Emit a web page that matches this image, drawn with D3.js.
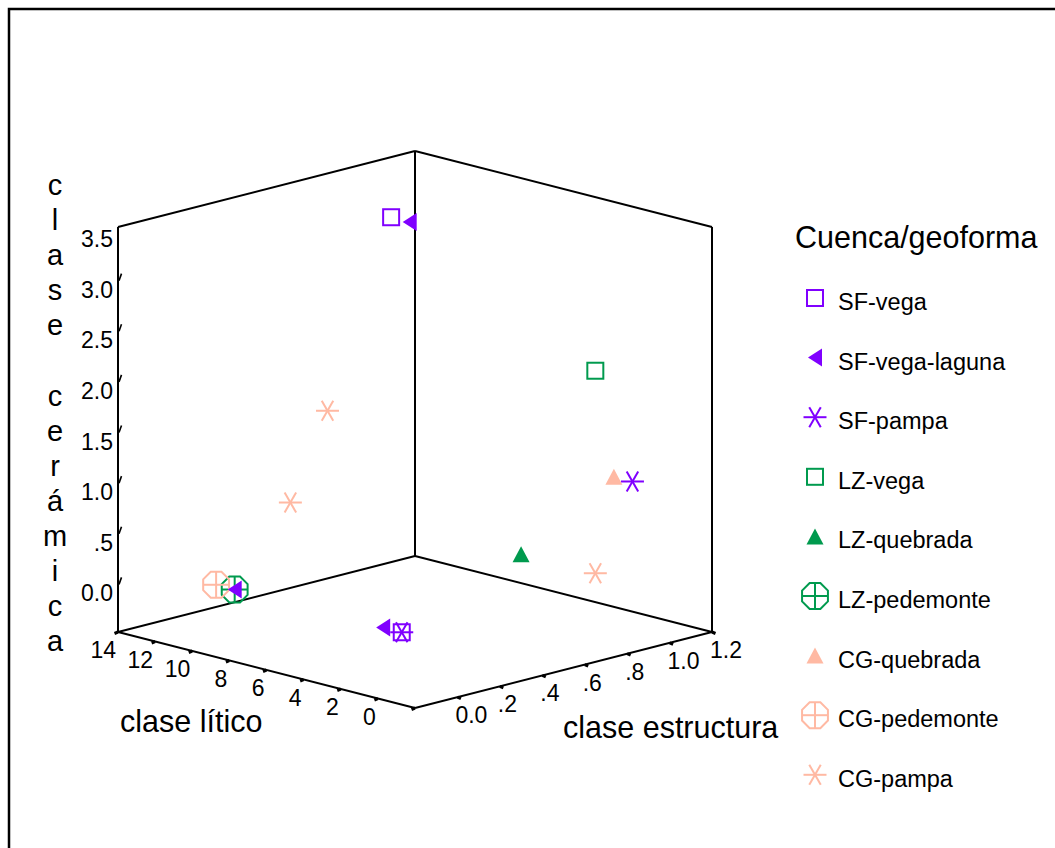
<!DOCTYPE html>
<html>
<head>
<meta charset="utf-8">
<script src="https://cdn.jsdelivr.net/npm/d3@7"></script>
<style>
  body { margin: 0; background: #fff; }
  svg { display: block; }
  text { font-family: "Liberation Sans", Arial, sans-serif; fill: #000; }
</style>
</head>
<body>
<svg id="chart" width="1055" height="848"></svg>
<script>
// Groups (Cuenca/geoforma) with their marker shape and colour
const groups = ["SF-vega", "SF-vega-laguna", "SF-pampa", "LZ-vega", "LZ-quebrada",
                "LZ-pedemonte", "CG-quebrada", "CG-pedemonte", "CG-pampa"];
const groupShapes = ["square", "triLeft", "asterisk", "square", "triUp",
                     "octagon", "triUp", "octagon", "asterisk"];
const groupColors = ["#8000ff", "#8000ff", "#8000ff", "#009a4e", "#009a4e",
                     "#009a4e", "#ffb9a3", "#ffb9a3", "#ffb9a3"];

// One entry per case
const caseGroup  = [0, 0, 1, 1, 1, 2, 2, 3, 4, 5, 6, 7, 8, 8, 8];
const estructura = [1, 0, 1, 0, 0, 1, 0, 1, 1, 0, 1, 0, 0, 0, 1];
const litico     = [13, 1, 12, 2, 10, 0, 1, 2, 6, 10, 1, 11, 5, 7, 2];
const ceramica   = [3, 0, 3, 0, 0, 1, 0, 2, 0, 0, 1, 0, 2, 1, 0];

// Axis ticks
const estructuraTicks  = [0, 0.2, 0.4, 0.6, 0.8, 1.0, 1.2];
const estructuraLabels = ["0.0", ".2", ".4", ".6", ".8", "1.0", "1.2"];
const liticoTicks      = [14, 12, 10, 8, 6, 4, 2, 0];
const liticoLabels     = ["14", "12", "10", "8", "6", "4", "2", "0"];
const ceramicaTicks    = [0, 0.5, 1.0, 1.5, 2.0, 2.5, 3.0, 3.5];
const ceramicaLabels   = ["0.0", ".5", "1.0", "1.5", "2.0", "2.5", "3.0", "3.5"];

const svg = d3.select("#chart");

// Outer frame
svg.append("rect").attr("x", 9).attr("y", 9).attr("width", 1200).attr("height", 1000)
  .attr("fill", "none").attr("stroke", "#000").attr("stroke-width", 2.5);

// ---- 3D projection: floor diamond + vertical scale ----
const sE = d3.scaleLinear().domain([-0.2, 1.2]).range([0, 1]);
const sL = d3.scaleLinear().domain([-2, 14]).range([0, 1]);
const sC = d3.scaleLinear().domain([-0.5, 3.5]).range([0, 405]);
const origin = [415, 708];
const eVec = [297, -76];
const lVec = [-297, -76];
function proj(e, l, c) {
  const a = sE(e), b = sL(l);
  return [origin[0] + a * eVec[0] + b * lVec[0],
          origin[1] + a * eVec[1] + b * lVec[1] - sC(c)];
}
const [e0, e1] = sE.domain(), [l0, l1] = sL.domain(), [c0, c1] = sC.domain();

const box = svg.append("g").attr("stroke", "#000").attr("stroke-width", 2)
  .attr("fill", "none").attr("stroke-linejoin", "round");
const edge = (p, q) => box.append("line")
  .attr("x1", p[0]).attr("y1", p[1]).attr("x2", q[0]).attr("y2", q[1]);
// floor
edge(proj(e0, l0, c0), proj(e1, l0, c0));
edge(proj(e0, l0, c0), proj(e0, l1, c0));
edge(proj(e1, l1, c0), proj(e1, l0, c0));
edge(proj(e1, l1, c0), proj(e0, l1, c0));
// verticals
edge(proj(e0, l1, c0), proj(e0, l1, c1));
edge(proj(e1, l1, c0), proj(e1, l1, c1));
edge(proj(e1, l0, c0), proj(e1, l0, c1));
// top back edges
edge(proj(e0, l1, c1), proj(e1, l1, c1));
edge(proj(e1, l1, c1), proj(e1, l0, c1));

const axes = svg.append("g");
const tickFont = "23px";

// clase lítico (front-left floor edge)
const litTickPos = liticoTicks.concat([-2]);
litTickPos.forEach(v => {
  const p = proj(e0, v, c0);
  axes.append("line").attr("x1", p[0]).attr("y1", p[1])
    .attr("x2", p[0] - 3.5).attr("y2", p[1] + 1.5)
    .attr("stroke", "#000").attr("stroke-width", 3);
});
liticoTicks.forEach((v, i) => {
  const p = proj(e0, v, c0);
  axes.append("text").attr("x", p[0] - 2).attr("y", p[1] + 26)
    .attr("text-anchor", "end").style("font-size", tickFont).text(liticoLabels[i]);
});

// clase estructura (front-right floor edge)
estructuraTicks.forEach((v, i) => {
  const p = proj(v, l0, c0);
  axes.append("line").attr("x1", p[0]).attr("y1", p[1])
    .attr("x2", p[0] + 3.5).attr("y2", p[1] + 1.5)
    .attr("stroke", "#000").attr("stroke-width", 3);
  axes.append("text").attr("x", p[0] - 2).attr("y", p[1] + 26)
    .attr("text-anchor", "start").style("font-size", tickFont).text(estructuraLabels[i]);
});

// clase cerámica (back-left vertical edge)
ceramicaTicks.forEach((v, i) => {
  const p = proj(e0, l1, v);
  if (v < 3.5) {
    axes.append("line").attr("x1", p[0] + 1).attr("y1", p[1] + 3)
      .attr("x2", p[0] + 3.5).attr("y2", p[1] - 4)
      .attr("stroke", "#000").attr("stroke-width", 1.6);
  }
  axes.append("text").attr("x", p[0] - 5).attr("y", p[1] + 20)
    .attr("text-anchor", "end").style("font-size", tickFont).text(ceramicaLabels[i]);
});

// Axis titles
svg.append("text").attr("x", 120).attr("y", 732).style("font-size", "30.5px").text("clase lítico");
svg.append("text").attr("x", 563).attr("y", 738).style("font-size", "30.5px").text("clase estructura");
const vTitle = "clase cerámica".split("");
svg.append("g").selectAll("text").data(vTitle).join("text")
  .attr("x", 55).attr("y", (d, i) => 195 + i * 35.1)
  .attr("text-anchor", "middle").style("font-size", "29px").text(d => d);

// ---- marker drawing ----
function drawMarker(g, shape, color, cx, cy) {
  if (shape === "square") {
    g.append("rect").attr("x", cx - 8).attr("y", cy - 8).attr("width", 16).attr("height", 16)
      .attr("fill", "none").attr("stroke", color).attr("stroke-width", 2);
  } else if (shape === "triLeft") {
    g.append("path").attr("d", `M${cx - 7},${cy}L${cx + 7},${cy - 9}L${cx + 7},${cy + 9}Z`)
      .attr("fill", color);
  } else if (shape === "triUp") {
    g.append("path").attr("d", `M${cx},${cy - 8}L${cx + 8.5},${cy + 8}L${cx - 8.5},${cy + 8}Z`)
      .attr("fill", color);
  } else if (shape === "asterisk") {
    [0, 60, 120].forEach(a => {
      const r = a * Math.PI / 180, dx = 11.5 * Math.cos(r), dy = 11.5 * Math.sin(r);
      g.append("line").attr("x1", cx - dx).attr("y1", cy - dy).attr("x2", cx + dx).attr("y2", cy + dy)
        .attr("stroke", color).attr("stroke-width", 2);
    });
  } else if (shape === "octagon") {
    const R = 14;
    const pts = d3.range(8).map(k => {
      const a = (22.5 + 45 * k) * Math.PI / 180;
      return [cx + R * Math.cos(a), cy + R * Math.sin(a)];
    });
    g.append("path").attr("d", "M" + pts.join("L") + "Z")
      .attr("fill", "none").attr("stroke", color).attr("stroke-width", 2);
    const h = R * Math.cos(Math.PI / 8);
    g.append("line").attr("x1", cx - h).attr("y1", cy).attr("x2", cx + h).attr("y2", cy)
      .attr("stroke", color).attr("stroke-width", 2);
    g.append("line").attr("x1", cx).attr("y1", cy - h).attr("x2", cx).attr("y2", cy + h)
      .attr("stroke", color).attr("stroke-width", 2);
  }
}

// ---- data points (back-to-front so overlapping marks stack as in the plot) ----
const pts = svg.append("g");
const ordered = [7, 9, 11, 12, 13, 14, 0, 1, 2, 3, 4, 5, 6, 8, 10];
ordered.forEach(i => {
  const p = proj(estructura[i], litico[i], ceramica[i]);
  const gi = caseGroup[i];
  drawMarker(pts, groupShapes[gi], groupColors[gi], p[0], p[1]);
});

// ---- legend ----
const legend = svg.append("g");
legend.append("text").attr("x", 795).attr("y", 248).style("font-size", "30.5px").text("Cuenca/geoforma");
groups.forEach((name, i) => {
  const row = 302 + i * 59.6;
  drawMarker(legend, groupShapes[i], groupColors[i], 815, row - 4);
  legend.append("text").attr("x", 838).attr("y", row + 8).style("font-size", "23.5px").text(name);
});
</script>
</body>
</html>
